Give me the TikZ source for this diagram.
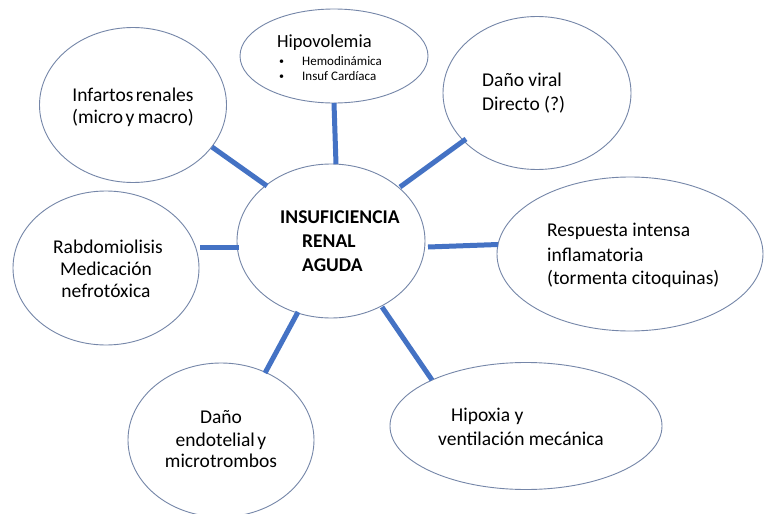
\documentclass[tikz,border=0pt]{standalone}
\usepackage{fontspec}
\setmainfont{Carlito}
\usetikzlibrary{shapes.geometric}
\definecolor{edgeblue}{HTML}{4472C4}
\definecolor{outline}{HTML}{7586A8}
\tikzset{
  bubble/.style={ellipse, draw=outline, line width=0.9pt, fill=white, inner sep=0pt},
  link/.style={draw=edgeblue, line width=5pt},
  lbl/.style={inner sep=0pt, font=\fontsize{19.5}{23}\selectfont},
  lblw/.style={lbl, anchor=base west},
  lblc/.style={lbl, anchor=base},
  small/.style={inner sep=0pt, anchor=base west, font=\fontsize{13}{15}\selectfont},
  dot/.style={inner sep=0pt, anchor=base west, font=\fontsize{10}{12}\selectfont},
  mainlbl/.style={inner sep=0pt, anchor=base west, font=\fontsize{19.5}{23}\selectfont\bfseries}
}
\begin{document}
\begin{tikzpicture}[x=1pt, y=-1pt]
\useasboundingbox (0,0) rectangle (764,514);
\fill[white] (0,0) rectangle (764,514);

% ellipses
\node[bubble, minimum width=188, minimum height=94]  (hipo) at (334,56) {};
\node[bubble, minimum width=187, minimum height=155] (inf)  at (133,105) {};
\node[bubble, minimum width=188, minimum height=153] (viral) at (537,93) {};
\node[bubble, minimum width=188, minimum height=154] (irA)  at (331,241) {};
\node[bubble, minimum width=186, minimum height=154] (rab)  at (106,268) {};
\node[bubble, minimum width=266, minimum height=154] (resp) at (630,254) {};
\node[bubble, minimum width=186, minimum height=154] (endo) at (221,440) {};
\node[bubble, minimum width=272, minimum height=127] (hipox) at (526,426) {};

% connector end points
\coordinate (h1) at (334,103); \coordinate (h2) at (336,164);
\coordinate (i1) at (212,147); \coordinate (i2) at (267,186);
\coordinate (v1) at (466,139); \coordinate (v2) at (400,187);
\coordinate (r1) at (200,247); \coordinate (r2) at (239,247);
\coordinate (s1) at (428,247); \coordinate (s2) at (498,244.5);
\coordinate (e1) at (298,312); \coordinate (e2) at (265,373);
\coordinate (x1) at (382,307); \coordinate (x2) at (432,380);

\draw[link] (h1) -- (h2);
\draw[link] (i1) -- (i2);
\draw[link] (v1) -- (v2);
\draw[link] (r1) -- (r2);
\draw[link] (s1) -- (s2);
\draw[link] (e1) -- (e2);
\draw[link] (x1) -- (x2);

% texts
\node[lblw, font=\fontsize{18.5}{22}\selectfont] (tHipo) at (277,47) {Hipovolemia};
\node[dot] (b1) at (279,64) {\textbullet};
\node[small] (tHemo) at (302,65) {Hemodinámica};
\node[dot] (b2) at (279,79) {\textbullet};
\node[small] (tInsuf) at (302,80) {Insuf Cardíaca};

\node[lblc] (tInf1) at (133,101) {Infartos\kern2.5pt renales};
\node[lblc] (tInf2) at (133,123) {(micro\kern2.5pt y\kern3.5pt macro)};

\node[lblw] (tVir1) at (482,86) {Daño viral};
\node[lblw] (tVir2) at (482,110) {Directo (?)};

\node[mainlbl] (tM1) at (280,223) {INSUFICIENCIA};
\node[mainlbl] (tM2) at (302,247) {RENAL};
\node[mainlbl] (tM3) at (302,271) {AGUDA};

\node[lblc] (tRab1) at (108,253) {Rabdomiolisis};
\node[lblc] (tRab2) at (106,275) {Medicación};
\node[lblc] (tRab3) at (106,297) {nefrotóxica};

\node[lblw] (tRes1) at (547,236) {Respuesta intensa};
\node[lblw] (tRes2) at (547,261) {inflamatoria};
\node[lblw] (tRes3) at (547,284) {(tormenta citoquinas)};

\node[lblc] (tEnd1) at (221,423) {Daño};
\node[lblc] (tEnd2) at (221,446) {endotelial\kern2.5pt y};
\node[lblc] (tEnd3) at (221,467) {microtrombos};

\node[lblw] (tHx1) at (451,421) {Hipoxia y};
\node[lblw] (tHx2) at (438,445) {ventilación mecánica};
\end{tikzpicture}
\end{document}
